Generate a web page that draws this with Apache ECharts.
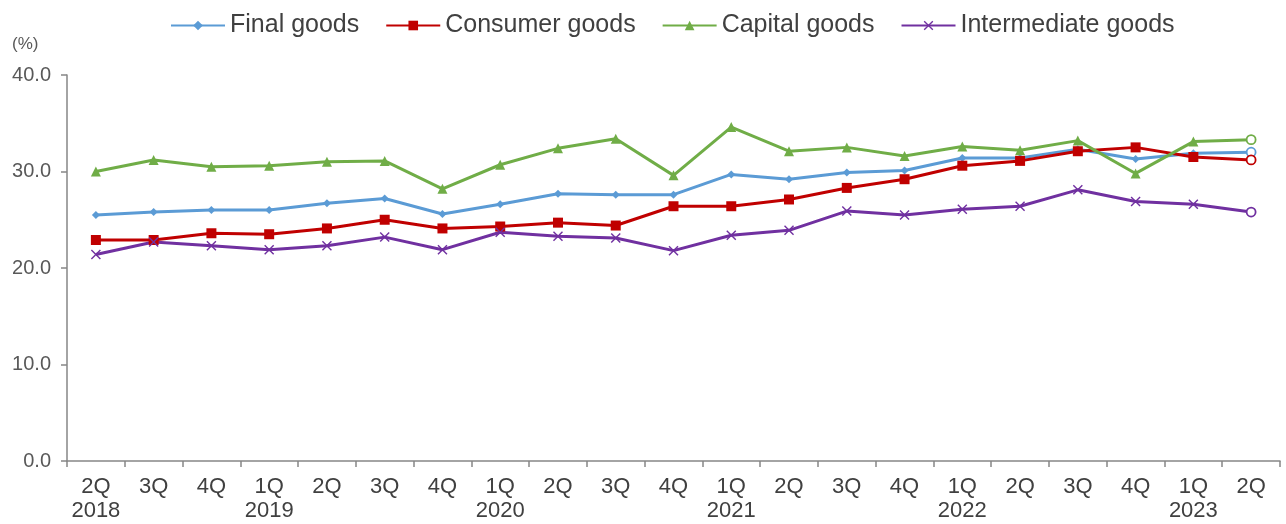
<!DOCTYPE html>
<html><head><meta charset="utf-8">
<script src="https://cdn.jsdelivr.net/npm/echarts@6/dist/echarts.min.js"></script>
<style>html,body{margin:0;padding:0;background:#fff}#c{width:1286px;height:524px}</style>
</head><body><div id="c"></div>
<script>
const categories = ['2Q\n2018','3Q','4Q','1Q\n2019','2Q','3Q','4Q','1Q\n2020','2Q','3Q','4Q','1Q\n2021','2Q','3Q','4Q','1Q\n2022','2Q','3Q','4Q','1Q\n2023','2Q'];
const finalGoods = [25.5, 25.8, 26.0, 26.0, 26.7, 27.2, 25.6, 26.6, 27.7, 27.6, 27.6, 29.7, 29.2, 29.9, 30.1, 31.4, 31.4, 32.3, 31.3, 31.9, 32.0];
const consumerGoods = [22.9, 22.9, 23.6, 23.5, 24.1, 25.0, 24.1, 24.3, 24.7, 24.4, 26.4, 26.4, 27.1, 28.3, 29.2, 30.6, 31.1, 32.1, 32.5, 31.5, 31.2];
const capitalGoods = [30.0, 31.2, 30.5, 30.6, 31.0, 31.1, 28.2, 30.7, 32.4, 33.4, 29.6, 34.6, 32.1, 32.5, 31.6, 32.6, 32.2, 33.2, 29.8, 33.1, 33.3];
const intermediateGoods = [21.4, 22.7, 22.3, 21.9, 22.3, 23.2, 21.9, 23.7, 23.3, 23.1, 21.8, 23.4, 23.9, 25.9, 25.5, 26.1, 26.4, 28.1, 26.9, 26.6, 25.8];
const yTicks = [0, 10, 20, 30, 40];

const X_PATH = 'path://M0,1 L1,0 L5,4 L9,0 L10,1 L6,5 L10,9 L9,10 L5,6 L1,10 L0,9 L4,5 Z';

function mk(name, vals, color, symbol, size) {
  const n = vals.length;
  return {
    name, type: 'line', symbol, symbolSize: size,
    lineStyle: { color, width: 3 },
    itemStyle: { color, borderWidth: 0 },
    data: vals.map((v, i) => i === n - 1 ? {
      value: v, symbol: 'circle', symbolSize: 9,
      itemStyle: { color: '#fff', borderColor: color, borderWidth: 1.8 }
    } : v),
    animation: false
  };
}

const chart = echarts.init(document.getElementById('c'), null, { renderer: 'canvas' });
chart.setOption({
  animation: false,
  textStyle: { fontFamily: 'Liberation Sans, Arial, sans-serif' },
  legend: {
    top: 8, left: 165,
    itemWidth: 54, itemHeight: 12, itemGap: 26,
    textStyle: { fontSize: 25, color: '#404040', fontFamily: 'Liberation Sans, Arial, sans-serif' },
    data: ['Final goods', 'Consumer goods', 'Capital goods', 'Intermediate goods']
  },
  graphic: [{ type: 'text', left: 12, top: 36, style: { text: '(%)', fontSize: 17, fill: '#595959', fontFamily: 'Liberation Sans, Arial, sans-serif' } }],
  grid: { left: 67, right: 6, top: 75, bottom: 63, containLabel: false },
  xAxis: {
    type: 'category', data: categories, boundaryGap: true,
    axisLine: { lineStyle: { color: '#868686', width: 1.5 } },
    axisTick: { show: true, length: 6, alignWithLabel: false, lineStyle: { color: '#868686', width: 1.5 } },
    axisLabel: { interval: 0, fontSize: 22, color: '#404040', lineHeight: 24, margin: 14 }
  },
  yAxis: {
    type: 'value', min: yTicks[0], max: yTicks[yTicks.length - 1], interval: 10,
    axisLine: { show: true, lineStyle: { color: '#868686', width: 1.5 } },
    axisTick: { show: true, length: 6, inside: false, lineStyle: { color: '#868686', width: 1.5 } },
    splitLine: { show: false },
    axisLabel: { fontSize: 20, color: '#595959', margin: 16, formatter: v => v.toFixed(1) }
  },
  series: [
    mk('Final goods', finalGoods, '#5B9BD5', 'diamond', 8),
    mk('Consumer goods', consumerGoods, '#C00000', 'rect', 10),
    mk('Capital goods', capitalGoods, '#70AD47', 'triangle', 10),
    mk('Intermediate goods', intermediateGoods, '#7030A0', X_PATH, 10)
  ]
});
</script>
</body></html>
